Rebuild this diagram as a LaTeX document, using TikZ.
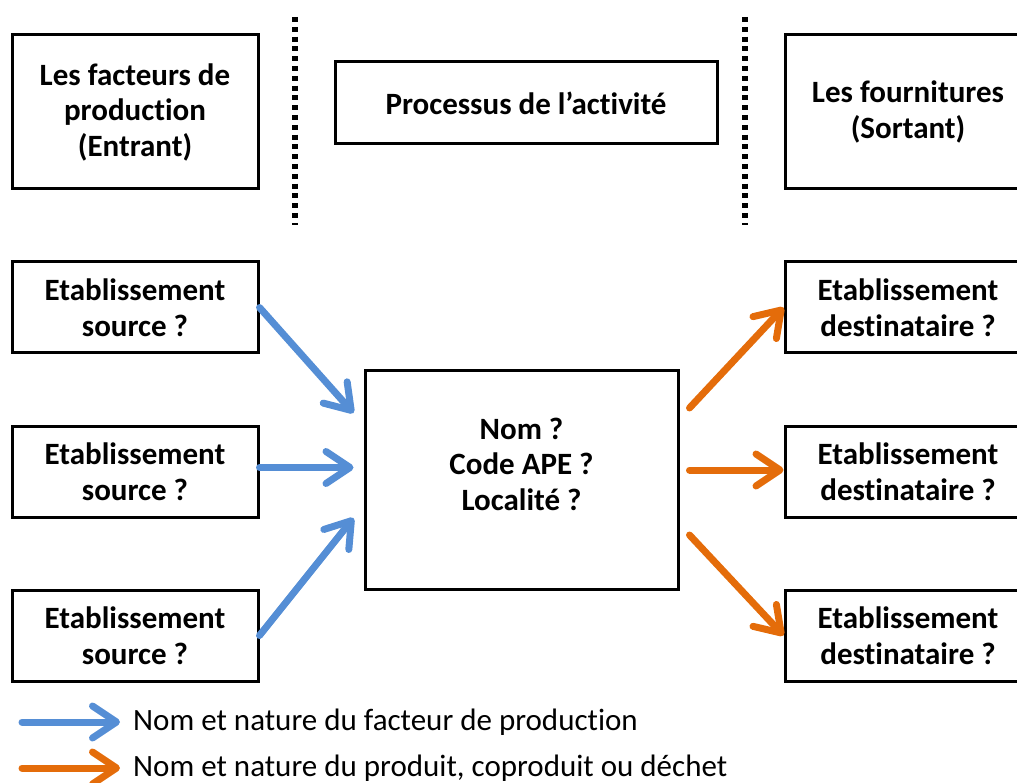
\documentclass[tikz,border=0pt]{standalone}
\usepackage{fontspec}
\setmainfont{Carlito}[Ligatures=NoCommon]
\usepackage{xcolor}
\usetikzlibrary{arrows.meta, positioning, calc}

\definecolor{blueflow}{RGB}{85,142,213}
\definecolor{orangeflow}{RGB}{228,108,10}

\begin{document}
\begin{tikzpicture}[
    x=1pt, y=-1pt,
    font=\fontsize{31}{36}\selectfont,
    box/.style={rectangle, draw, line width=3pt, font=\fontsize{31}{35.5}\selectfont\bfseries,
                minimum width=246pt, minimum height=#1, inner sep=0pt,
                align=center},
    box/.default=91pt,
    flow/.style={draw=#1, line width=7pt, line cap=round,
                 -{Straight Barb[length=24pt, width=32pt, round]}},
    separator/.style={line width=5.5pt, dash pattern=on 5pt off 4.8pt},
    keytext/.style={anchor=west, inner sep=0pt},
]
    \useasboundingbox (0,0) rectangle (1017,783);

    % Header
    \node[box=154pt] (entrant) at (135,112) {Les facteurs de\\production\\(Entrant)};
    \node[box=82pt, minimum width=382pt] (activite) at (526,103) {Processus de l’activité};
    \node[box=154pt] (sortant) at (908,112) {Les fournitures\\(Sortant)};

    % Separators
    \coordinate (sepAtop) at (295,17);
    \coordinate (sepAbot) at (295,225);
    \coordinate (sepBtop) at (745,17);
    \coordinate (sepBbot) at (745,225);
    \draw[separator] (sepAtop) -- (sepAbot);
    \draw[separator] (sepBtop) -- (sepBbot);

    % Sources
    \node[box] (src1) at (135,307.5) {Etablissement\\source ?};
    \node[box, below=70pt of src1] (src2) {Etablissement\\source ?};
    \node[box, below=70pt of src2] (src3) {Etablissement\\source ?};

    % Activity
    \node[box=218pt, minimum width=313pt,
          label={[font=\fontsize{31}{35.5}\selectfont\bfseries, align=center, yshift=16pt]center:Nom ?\\Code APE ?\\Localité ?}]
          (proc) at (521.5,480) {};

    % Destinations
    \node[box] (dst1) at (908,307.5) {Etablissement\\destinataire ?};
    \node[box, below=70pt of dst1] (dst2) {Etablissement\\destinataire ?};
    \node[box, below=70pt of dst2] (dst3) {Etablissement\\destinataire ?};

    % Inputs
    \draw[flow=blueflow] (src1.east) -- ([xshift=-10pt, yshift=67pt]proc.west);
    \draw[flow=blueflow, shorten >=10pt] ([yshift=4pt]src2.east) -- ([yshift=4pt]src2.east -| proc.west);
    \draw[flow=blueflow] (src3.east) -- ([xshift=-10pt, yshift=-38pt]proc.west);

    % Outputs
    \draw[flow=orangeflow] ([xshift=10pt, yshift=72pt]proc.east) -- (dst1.west);
    \draw[flow=orangeflow] ([xshift=10pt, yshift=10pt]proc.east) -- ([yshift=10pt]proc.east -| dst2.west);
    \draw[flow=orangeflow] ([xshift=10pt, yshift=-55pt]proc.east) -- (dst3.west);

    % Legend
    \coordinate (keyA) at (22,722);
    \coordinate (keyB) at (22,768);
    \node[keytext] (keyAtext) at (133,722) {Nom et nature du facteur de production};
    \node[keytext] (keyBtext) at (133,768) {Nom et nature du produit, coproduit ou déchet};
    \draw[flow=blueflow, shorten >=13pt] (keyA) -- (keyAtext.west);
    \draw[flow=orangeflow, shorten >=13pt] (keyB) -- (keyBtext.west);

\end{tikzpicture}
\end{document}
